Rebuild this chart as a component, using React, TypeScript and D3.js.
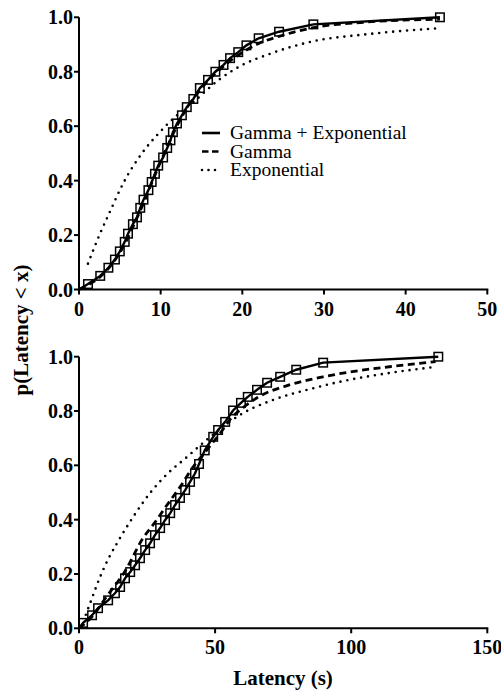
import React from "react";
import * as d3 from "d3";

// ---------- Top panel data ----------
const topDataX = [1.1, 2.6, 3.6, 4.4, 5.0, 5.6, 6.0, 6.6, 7.1, 7.5, 7.9, 8.5, 8.9, 9.3, 9.7, 10.3, 10.8, 11.2, 11.5, 12.0, 12.6, 13.2, 14.0, 14.8, 15.8, 16.7, 17.7, 18.5, 19.5, 20.5, 22.0, 24.5, 28.7, 44.2];
const topDataY = [0.02, 0.05, 0.08, 0.11, 0.14, 0.175, 0.205, 0.24, 0.265, 0.3, 0.33, 0.365, 0.395, 0.425, 0.455, 0.485, 0.52, 0.548, 0.578, 0.61, 0.64, 0.67, 0.7, 0.74, 0.77, 0.8, 0.825, 0.85, 0.872, 0.897, 0.923, 0.947, 0.974, 1.0];
const topGammaX = [0, 1, 2.6, 5, 7.5, 10, 12.5, 15, 17.5, 20.5, 22, 24.5, 28.7, 35, 44.2];
const topGammaY = [0, 0.015, 0.047, 0.135, 0.29, 0.47, 0.63, 0.74, 0.815, 0.88, 0.904, 0.93, 0.962, 0.982, 0.993];
const topExpX = [1.1, 2.5, 3.7, 5.5, 7.7, 9.7, 12, 14, 16.9, 19.7, 23.4, 28.7, 35, 44.2];
const topExpY = [0.095, 0.2, 0.28, 0.395, 0.5, 0.572, 0.64, 0.688, 0.765, 0.82, 0.866, 0.912, 0.937, 0.96];
const topXTicks = [0, 10, 20, 30, 40, 50];

// ---------- Bottom panel data ----------
const botDataX = [1.5, 4.8, 7.0, 10.7, 13.2, 15.1, 16.9, 18.8, 20.6, 22.4, 24.3, 26.1, 27.9, 29.8, 31.6, 33.5, 35.3, 37.1, 39.0, 40.8, 42.6, 44.1, 46.2, 49.3, 51.1, 53.7, 56.6, 59.5, 62.0, 65.4, 69.1, 73.9, 79.8, 89.7, 132];
const botDataY = [0.02, 0.048, 0.074, 0.103, 0.129, 0.152, 0.184, 0.207, 0.232, 0.258, 0.288, 0.313, 0.343, 0.369, 0.398, 0.424, 0.454, 0.48, 0.509, 0.539, 0.57, 0.605, 0.655, 0.705, 0.73, 0.76, 0.802, 0.83, 0.852, 0.878, 0.904, 0.926, 0.952, 0.978, 1.0];
const botGammaX = [0, 5, 10, 16.9, 23.4, 27.9, 32.2, 37.1, 41.9, 47, 52, 56, 60, 65.4, 77.6, 89.7, 99.6, 114, 131];
const botGammaY = [0, 0.045, 0.115, 0.21, 0.33, 0.39, 0.452, 0.52, 0.594, 0.657, 0.72, 0.775, 0.81, 0.849, 0.897, 0.926, 0.944, 0.963, 0.982];
const botExpX = [2.5, 4, 7.7, 11, 14, 19.9, 26.1, 32.4, 39.7, 47, 52, 59.2, 71.3, 83.8, 96, 114, 131.6];
const botExpY = [0.05, 0.09, 0.188, 0.26, 0.314, 0.41, 0.498, 0.568, 0.631, 0.695, 0.735, 0.786, 0.841, 0.878, 0.908, 0.94, 0.963];
const botXTicks = [0, 50, 100, 150];

const yTicks = [0, 0.2, 0.4, 0.6, 0.8, 1.0];
const legendLabels = ["Gamma + Exponential", "Gamma", "Exponential"];

const FONT = "Liberation Serif, Times New Roman, Times, DejaVu Serif, serif";

type PanelProps = {
  xMax: number;
  xTicks: number[];
  yTop: number;
  yBottom: number;
  dataX: number[];
  dataY: number[];
  gX: number[];
  gY: number[];
  eX: number[];
  eY: number[];
  legend: boolean;
};

function Panel(p: PanelProps) {
  const x = d3.scaleLinear().domain([0, p.xMax]).range([79, 487.3]);
  const y = d3.scaleLinear().domain([0, 1]).range([p.yBottom, p.yTop]);
  const pts = (xs: number[], ys: number[]) => xs.map((v, i) => [v, ys[i]] as [number, number]);
  const smooth = d3.line<[number, number]>().x(d => x(d[0])).y(d => y(d[1])).curve(d3.curveMonotoneX);
  const straight = d3.line<[number, number]>().x(d => x(d[0])).y(d => y(d[1]));
  const dataPts = pts(p.dataX, p.dataY);
  const solidPts: [number, number][] = [[0, 0], ...dataPts];
  const fmt = d3.format(".1f");
  const ms = 8.5;
  return (
    <g>
      <path d={smooth(pts(p.eX, p.eY)) || ""} fill="none" stroke="#000" strokeWidth={2.6} strokeDasharray="0,7" strokeLinecap="round" />
      <path d={smooth(pts(p.gX, p.gY)) || ""} fill="none" stroke="#000" strokeWidth={2.8} strokeDasharray="7,4.5" />
      <path d={straight(solidPts) || ""} fill="none" stroke="#000" strokeWidth={2.4} />
      {dataPts.map((d, i) => (
        <rect key={i} x={x(d[0]) - ms / 2} y={y(d[1]) - ms / 2} width={ms} height={ms} fill="none" stroke="#000" strokeWidth={1.5} />
      ))}
      {/* axes */}
      <line x1={x(0)} x2={x(0)} y1={y(0) + 1} y2={y(1)} stroke="#000" strokeWidth={2} />
      <line x1={x(0) - 1} x2={x(p.xMax) + 1} y1={y(0)} y2={y(0)} stroke="#000" strokeWidth={2} />
      {yTicks.map(t => (
        <g key={t}>
          <line x1={x(0) - 5} x2={x(0)} y1={y(t)} y2={y(t)} stroke="#000" strokeWidth={2} />
          <text x={x(0) - 6} y={y(t)} dy="0.35em" textAnchor="end" style={{ fontFamily: FONT, fontWeight: "bold", fontSize: 20 }}>{fmt(t)}</text>
        </g>
      ))}
      {p.xTicks.map(t => (
        <g key={t}>
          <line x1={x(t)} x2={x(t)} y1={y(0)} y2={y(0) + 5} stroke="#000" strokeWidth={2} />
          <text x={x(t)} y={y(0) + 26} textAnchor="middle" style={{ fontFamily: FONT, fontWeight: "bold", fontSize: 20 }}>{t}</text>
        </g>
      ))}
      {p.legend && (
        <g>
          {legendLabels.map((lab, i) => {
            const ly = 133 + i * 18.5;
            return (
              <g key={lab}>
                <line x1={202} x2={220} y1={ly} y2={ly} stroke="#000" strokeWidth={2.6}
                  strokeDasharray={i === 0 ? undefined : i === 1 ? "6.5,3.5" : "0,6.5"}
                  strokeLinecap={i === 2 ? "round" : "butt"} />
                <text x={230} y={ly} dy="0.33em" style={{ fontFamily: FONT, fontSize: 19.5 }}>{lab}</text>
              </g>
            );
          })}
        </g>
      )}
    </g>
  );
}

export default function App() {
  return (
    <svg width={501} height={691} style={{ position: "absolute", left: 0, top: 0, background: "#fff" }}>
      <rect width={501} height={691} fill="#fff" />
      <Panel xMax={50} xTicks={topXTicks} yTop={17.3} yBottom={289.5}
        dataX={topDataX} dataY={topDataY} gX={topGammaX} gY={topGammaY} eX={topExpX} eY={topExpY} legend={true} />
      <Panel xMax={150} xTicks={botXTicks} yTop={356.7} yBottom={628.3}
        dataX={botDataX} dataY={botDataY} gX={botGammaX} gY={botGammaY} eX={botExpX} eY={botExpY} legend={false} />
      <text transform="translate(28,330) rotate(-90)" textAnchor="middle" style={{ fontFamily: FONT, fontWeight: "bold", fontSize: 21 }}>p(Latency &lt; x)</text>
      <text x={283} y={685} textAnchor="middle" style={{ fontFamily: FONT, fontWeight: "bold", fontSize: 21 }}>Latency (s)</text>
    </svg>
  );
}
